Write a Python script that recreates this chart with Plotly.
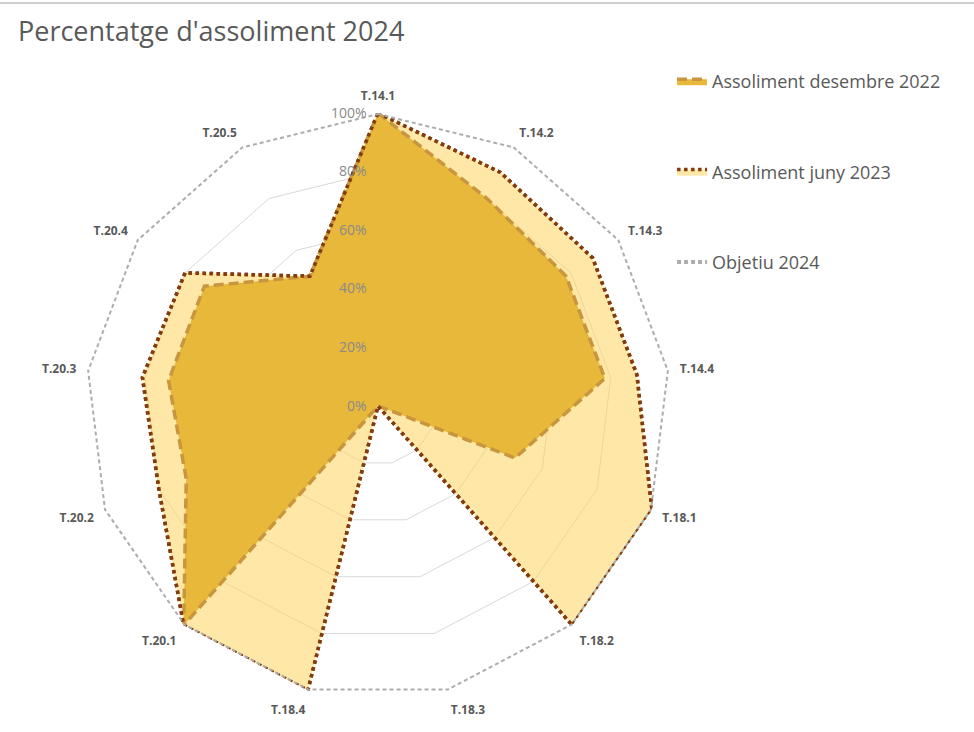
import plotly.graph_objects as go

# Chart data (as fractions of 1)
categories = ["T.14.1", "T.14.2", "T.14.3", "T.14.4", "T.18.1", "T.18.2", "T.18.3",
              "T.18.4", "T.20.1", "T.20.2", "T.20.3", "T.20.4", "T.20.5"]
desembre_2022 = [1.00, 0.80, 0.78, 0.78, 0.50, 0.00, 0.00, 0.00, 1.00, 0.70, 0.72, 0.72, 0.50]
juny_2023 = [1.00, 0.90, 0.89, 0.89, 1.00, 1.00, 0.00, 1.00, 1.00, 0.80, 0.81, 0.80, 0.50]
objetiu_2024 = [1.00, 1.00, 1.00, 1.00, 1.00, 1.00, 1.00, 1.00, 1.00, 1.00, 1.00, 1.00, 1.00]
radial_ticks = [0, 0.2, 0.4, 0.6, 0.8, 1.0]

TEXT = "#595959"
BROWN = "#843C0C"
TAN = "#C8963E"
GOLD = "#E8B83A"
LIGHT = "rgba(255, 212, 95, 0.55)"
GREY = "#ADADAD"


def closed(values):
    # repeat first point so the outline closes
    return list(values) + list(values[:1])


theta = closed(categories)

fig = go.Figure()

# juny 2023 fill (behind)
fig.add_trace(go.Scatterpolar(
    r=closed(juny_2023), theta=theta, name="Assoliment juny 2023",
    mode="lines", fill="toself", fillcolor=LIGHT,
    line=dict(color=BROWN, width=3.5, dash="dot"),
    legendrank=2, legendgroup="b",
))

# desembre 2022
fig.add_trace(go.Scatterpolar(
    r=closed(desembre_2022), theta=theta, name="Assoliment desembre 2022",
    mode="lines", fill="toself", fillcolor=GOLD,
    line=dict(color=TAN, width=3.5, dash="10px,5px"),
    legendrank=1, legendgroup="a",
))

# juny 2023 outline again on top of the gold area
fig.add_trace(go.Scatterpolar(
    r=closed(juny_2023), theta=theta, mode="lines",
    line=dict(color=BROWN, width=3.5, dash="dot"),
    showlegend=False, hoverinfo="skip",
))

# objetiu 2024
fig.add_trace(go.Scatterpolar(
    r=closed(objetiu_2024), theta=theta, name="Objetiu 2024",
    mode="lines", line=dict(color=GREY, width=4, dash="4px,3px"),
    legendrank=3, legendgroup="c",
))

fig.update_layout(
    width=974, height=732,
    margin=dict(l=0, r=0, t=0, b=0),
    paper_bgcolor="white",
    font=dict(family="Open Sans", color=TEXT),
    title=dict(text="Percentatge d'assoliment 2024", x=18 / 974, xanchor="left",
               xref="container", y=1 - 32 / 732, yanchor="middle", yref="container",
               font=dict(size=27, color=TEXT)),
    polar=dict(
        domain=dict(x=[85 / 974, 671 / 974], y=[33 / 732, 619 / 732]),
        gridshape="linear",
        bgcolor="rgba(0,0,0,0)",
        radialaxis=dict(range=[0, 1], tickvals=radial_ticks, tickformat=".0%",
                        angle=90, tickangle=90, side="counterclockwise", showline=False,
                        gridcolor="#D9D9D9", gridwidth=1,
                        ticks="outside", ticklen=6, tickcolor="rgba(0,0,0,0)",
                        tickfont=dict(size=14, color="#8A8A8A"),
                        layer="above traces"),
        angularaxis=dict(categoryarray=categories, categoryorder="array",
                         direction="clockwise", rotation=90, showline=False,
                         showgrid=False, ticks="outside", ticklen=8,
                         tickcolor="rgba(0,0,0,0)",
                         tickfont=dict(size=12, color=TEXT, weight="bold")),
    ),
    legend=dict(x=0.69, xanchor="left", y=1 - 63 / 732, yanchor="top",
                font=dict(size=18, color=TEXT), tracegroupgap=64,
                bgcolor="rgba(0,0,0,0)"),
    shapes=[dict(type="line", xref="paper", yref="paper", x0=0, x1=1,
                 y0=1 - 3 / 732, y1=1 - 3 / 732,
                 line=dict(color="#BFBFBF", width=1.5))],
)

fig.write_html("out.html", config={"displayModeBar": False},
               post_script="document.body.style.margin='0';")
